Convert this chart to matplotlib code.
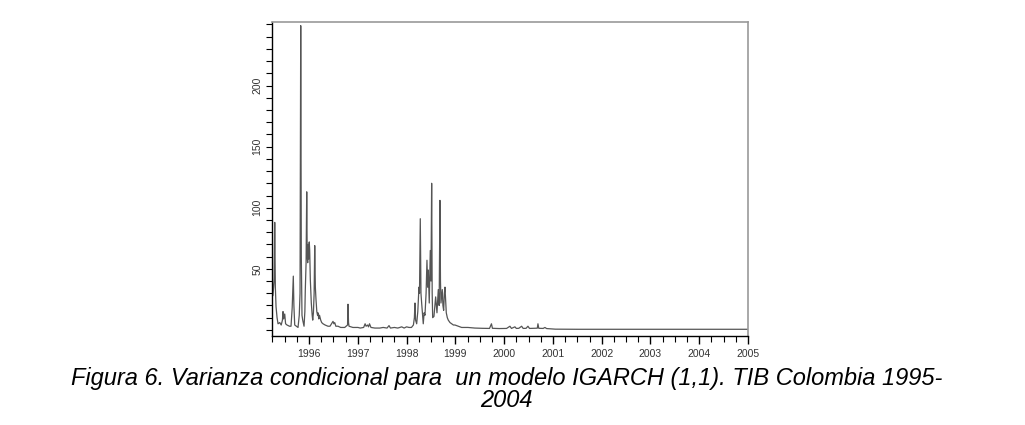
import matplotlib
matplotlib.use("Agg")
import matplotlib.pyplot as plt
from matplotlib.ticker import MultipleLocator

# --- data (decimal year, conditional variance) ---
years = [
    1995.242, 1995.26, 1995.285, 1995.297, 1995.31, 1995.324, 1995.345, 1995.365,
    1995.40, 1995.43, 1995.455, 1995.467, 1995.48, 1995.502, 1995.52, 1995.549,
    1995.60, 1995.631, 1995.655, 1995.678, 1995.69, 1995.707, 1995.74, 1995.775,
    1995.80, 1995.816, 1995.830, 1995.842, 1995.856, 1995.871, 1995.898, 1995.915,
    1995.924, 1995.94, 1995.953, 1995.963, 1995.973, 1995.984, 1995.994, 1996.005,
    1996.014, 1996.027, 1996.047, 1996.065, 1996.076, 1996.09, 1996.105, 1996.117,
    1996.13, 1996.143, 1996.16, 1996.175, 1996.184, 1996.20, 1996.215, 1996.240,
    1996.26, 1996.287, 1996.33, 1996.389, 1996.43, 1996.46, 1996.492, 1996.51,
    1996.527, 1996.55, 1996.594, 1996.65, 1996.732, 1996.79, 1996.799, 1996.81,
    1996.820, 1996.90, 1997.004, 1997.05, 1997.12, 1997.15, 1997.17, 1997.20,
    1997.22, 1997.24, 1997.27, 1997.35, 1997.45, 1997.52, 1997.60, 1997.64,
    1997.67, 1997.75, 1997.82, 1997.90, 1997.95, 1998.00, 1998.05, 1998.10,
    1998.14, 1998.16, 1998.172, 1998.185, 1998.207, 1998.23, 1998.254, 1998.265,
    1998.281, 1998.295, 1998.309, 1998.342, 1998.36, 1998.377, 1998.40, 1998.418,
    1998.432, 1998.445, 1998.465, 1998.486, 1998.50, 1998.514, 1998.525, 1998.535,
    1998.561, 1998.58, 1998.596, 1998.623, 1998.650, 1998.668, 1998.684, 1998.695,
    1998.705, 1998.72, 1998.732, 1998.745, 1998.760, 1998.775, 1998.787, 1998.814,
    1998.835, 1998.855, 1998.89, 1998.924, 1998.96, 1998.992, 1999.06, 1999.129,
    1999.258, 1999.40, 1999.55, 1999.70, 1999.74, 1999.76, 1999.90, 2000.05,
    2000.119, 2000.15, 2000.221, 2000.25, 2000.30, 2000.359, 2000.39, 2000.45,
    2000.488, 2000.52, 2000.60, 2000.68, 2000.693, 2000.71, 2000.80, 2000.836,
    2000.87, 2000.95, 2001.05, 2001.50, 2002.00, 2002.50, 2003.00, 2003.50,
    2004.00, 2004.50, 2005.00,
]
variance = [
    52, 28, 40, 88, 35, 19, 10, 5,
    6, 4, 8, 15, 9, 13, 5, 4,
    3, 3, 18, 44, 20, 4, 3, 2,
    12, 30, 249, 60, 12, 8, 3, 15,
    33, 55, 113, 60, 55, 70, 58, 72,
    65, 41, 22, 12, 8, 14, 30, 69,
    35, 25, 15, 12, 14, 9, 12, 8,
    6, 5, 4, 3, 3, 5, 7, 5,
    6, 3, 3, 2, 2, 4, 21, 6,
    3, 2, 2, 1.5, 2, 5, 3, 4,
    2.5, 5, 2, 1.5, 1.5, 2, 1.5, 3.5,
    1.5, 2, 1.5, 2.5, 1.5, 2.5, 2, 2,
    4, 10, 22, 8, 5, 15, 35, 30,
    91, 30, 22, 5, 14, 12, 30, 57,
    35, 49, 22, 65, 40, 120, 30, 10,
    11, 20, 27, 14, 33, 20, 106, 40,
    22, 28, 33, 20, 16, 30, 35, 14,
    10, 8, 6, 5, 4, 4, 3, 2,
    2, 1.5, 1.3, 1.2, 5, 1.3, 1.1, 1.2,
    3, 1.2, 2.5, 1.2, 1.3, 3, 1.2, 1.3,
    3, 1.2, 1.3, 1.4, 5, 1.3, 1.2, 2,
    1.1, 0.9, 0.6, 0.5, 0.5, 0.5, 0.5, 0.5,
    0.5, 0.5, 0.5,
]
year_ticks = list(range(1996, 2006))
y_ticks = [50, 100, 150, 200]

caption = ("Figura 6. Varianza condicional para  un modelo IGARCH (1,1). TIB Colombia 1995-\n"
           "2004")

plt.rcParams["font.family"] = ["Liberation Sans", "DejaVu Sans"]

fig = plt.figure(figsize=(10.25, 4.25), dpi=100)
ax = fig.add_axes([0.2654, 0.2094, 0.4644, 0.7388])

ax.plot(years, variance, color="#555555", linewidth=0.9)

ax.set_xlim(1995.242, 2005)
ax.set_ylim(-5, 252)

ax.set_xticks(year_ticks)
ax.set_xticklabels([str(y) for y in year_ticks])
ax.xaxis.set_minor_locator(MultipleLocator(0.25))
ax.set_yticks(y_ticks)
ax.set_yticklabels([str(v) for v in y_ticks], rotation=90, va="center")
ax.yaxis.set_minor_locator(MultipleLocator(10))

ax.tick_params(axis="x", which="major", direction="out", length=6, width=1,
               labelsize=7.5, labelcolor="#333333", pad=3)
ax.tick_params(axis="x", which="minor", direction="out", length=4, width=0.8)
ax.tick_params(axis="y", which="both", direction="out", length=4, width=0.8,
               labelsize=7.5, labelcolor="#333333", pad=3)

for side in ("top", "right"):
    ax.spines[side].set_color("#999999")
    ax.spines[side].set_linewidth(1.2)
for side in ("left", "bottom"):
    ax.spines[side].set_color("black")
    ax.spines[side].set_linewidth(1.0)

fig.text(0.494, 0.083, caption, ha="center", va="center", fontsize=17,
         style="italic", linespacing=0.95)

fig.savefig("out.png", dpi=100)
